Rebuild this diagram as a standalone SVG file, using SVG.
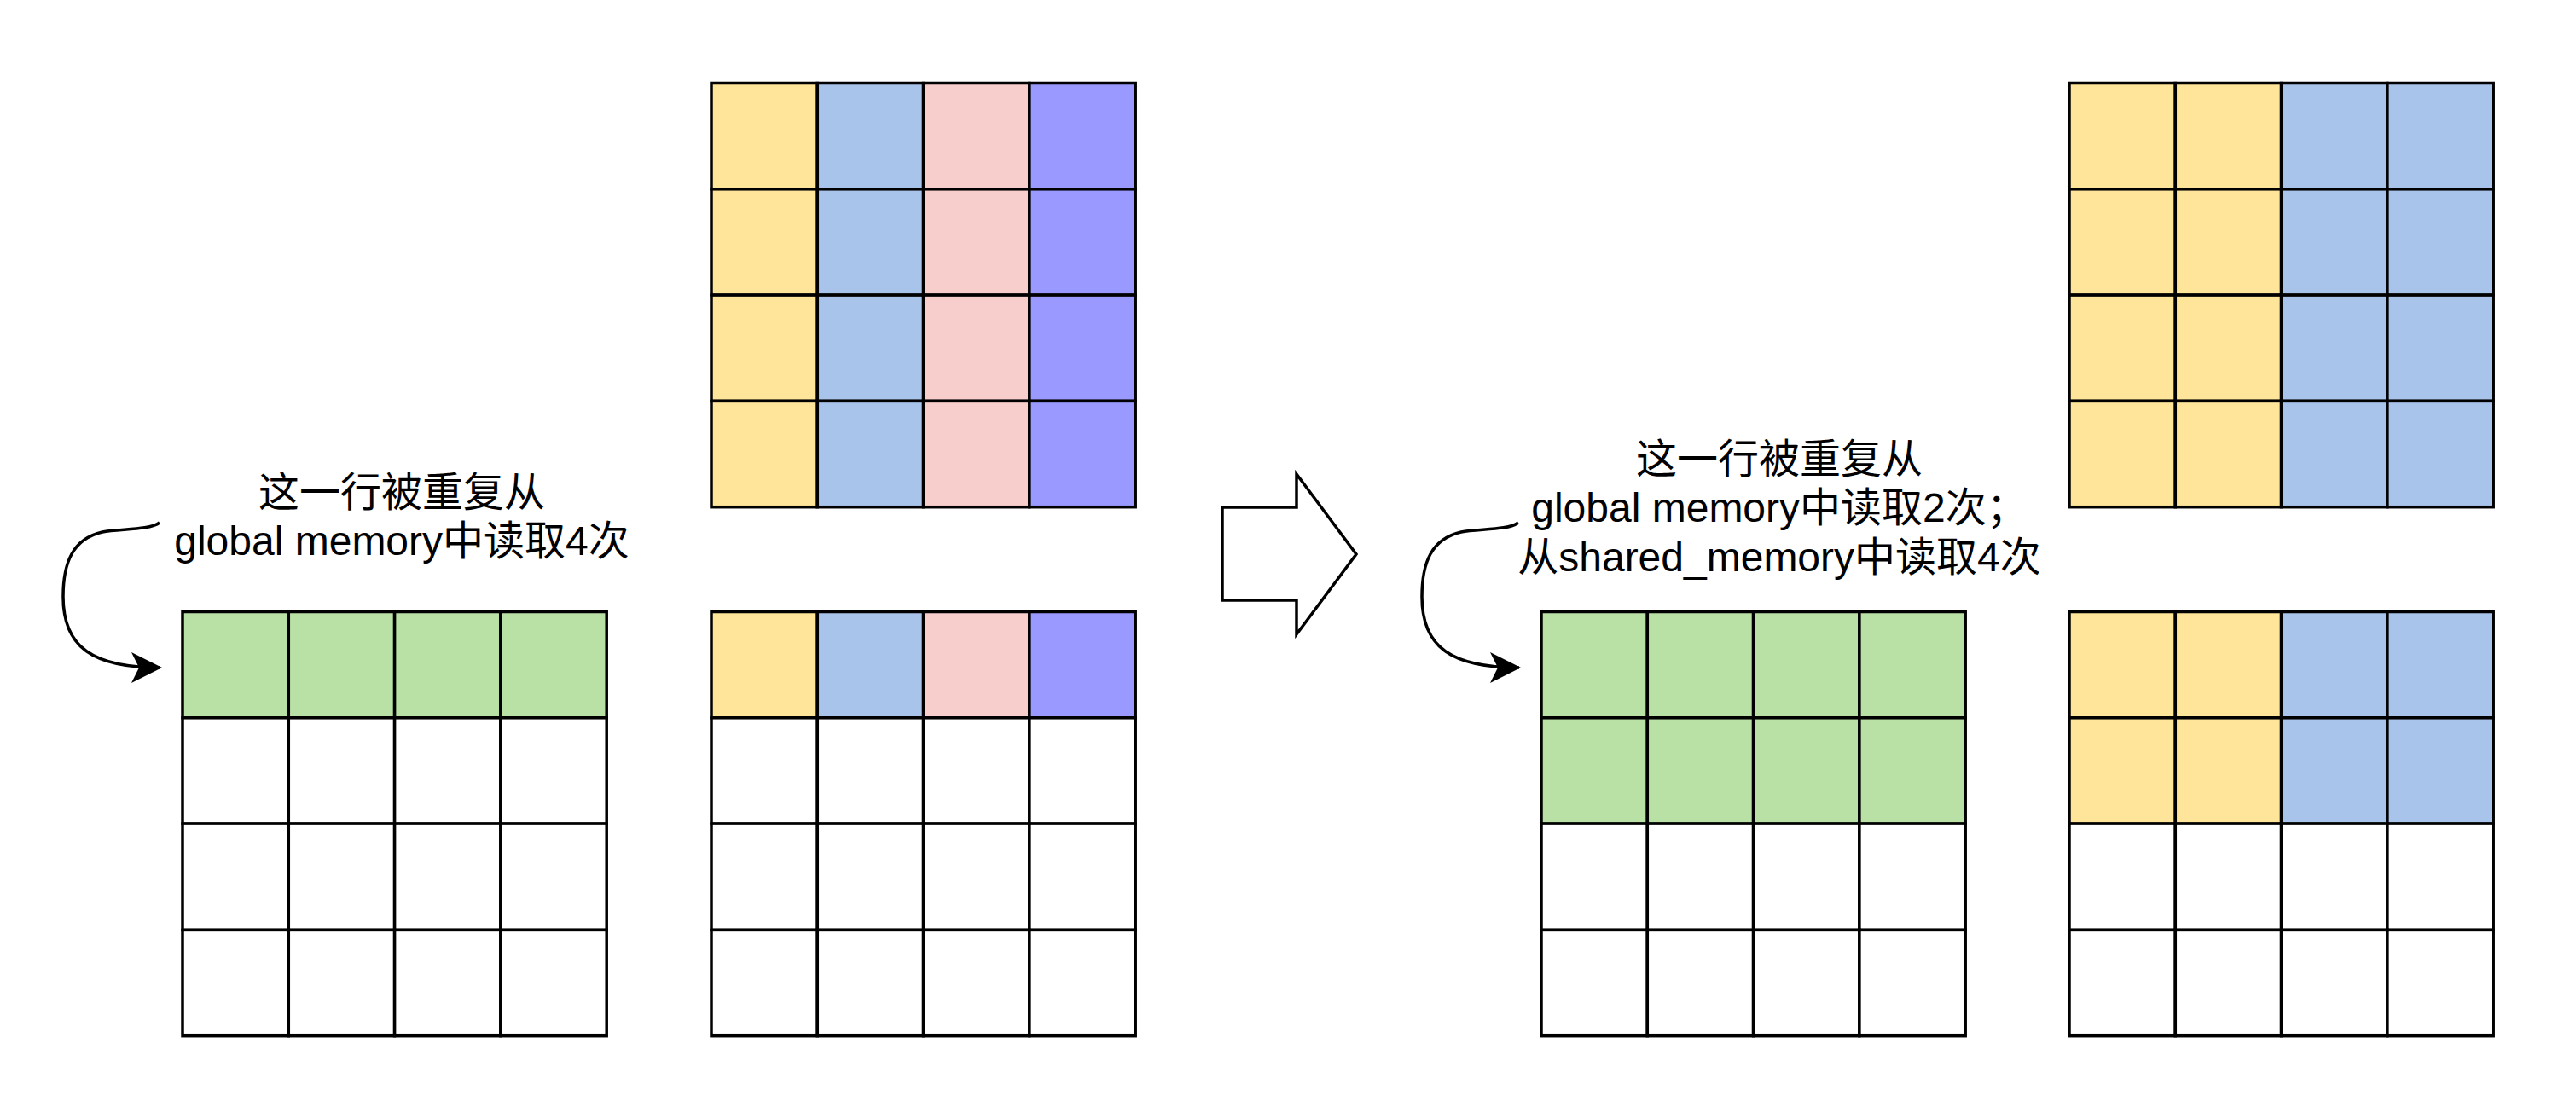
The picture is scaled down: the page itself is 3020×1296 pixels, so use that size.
<svg xmlns="http://www.w3.org/2000/svg" width="3020" height="1296" viewBox="0 0 3020 1296">
<style>
.c{stroke:#000;stroke-width:3.5}
.w{fill:#FFFFFF}
.y{fill:#FFE599}
.b{fill:#A9C4EB}
.p{fill:#F8CECC}
.v{fill:#9999FF}
.g{fill:#B9E0A5}
.t{font-family:"Liberation Sans","Noto Sans CJK SC",sans-serif;font-size:48px;fill:#000;text-anchor:middle}
.e{fill:none;stroke:#000;stroke-width:3.5}
</style>
<defs>
<marker id="ah" markerUnits="userSpaceOnUse" viewBox="0 0 36 36" refX="34" refY="18" markerWidth="36" markerHeight="36" orient="auto">
<path d="M36,18 L0,0 L9,18 L0,36 Z" fill="#000"/>
</marker>
</defs>
<rect width="3020" height="1296" fill="#fff"/>

<g id="gridA">
<rect class="c y" x="834" y="97.5" width="124.3" height="124.3"/><rect class="c b" x="958.3" y="97.5" width="124.3" height="124.3"/><rect class="c p" x="1082.6" y="97.5" width="124.3" height="124.3"/><rect class="c v" x="1206.9" y="97.5" width="124.3" height="124.3"/>
<rect class="c y" x="834" y="221.8" width="124.3" height="124.3"/><rect class="c b" x="958.3" y="221.8" width="124.3" height="124.3"/><rect class="c p" x="1082.6" y="221.8" width="124.3" height="124.3"/><rect class="c v" x="1206.9" y="221.8" width="124.3" height="124.3"/>
<rect class="c y" x="834" y="346.1" width="124.3" height="124.3"/><rect class="c b" x="958.3" y="346.1" width="124.3" height="124.3"/><rect class="c p" x="1082.6" y="346.1" width="124.3" height="124.3"/><rect class="c v" x="1206.9" y="346.1" width="124.3" height="124.3"/>
<rect class="c y" x="834" y="470.4" width="124.3" height="124.3"/><rect class="c b" x="958.3" y="470.4" width="124.3" height="124.3"/><rect class="c p" x="1082.6" y="470.4" width="124.3" height="124.3"/><rect class="c v" x="1206.9" y="470.4" width="124.3" height="124.3"/>
</g>

<g id="gridB">
<rect class="c g" x="214" y="717.5" width="124.3" height="124.3"/><rect class="c g" x="338.3" y="717.5" width="124.3" height="124.3"/><rect class="c g" x="462.6" y="717.5" width="124.3" height="124.3"/><rect class="c g" x="586.9" y="717.5" width="124.3" height="124.3"/>
<rect class="c w" x="214" y="841.8" width="124.3" height="124.3"/><rect class="c w" x="338.3" y="841.8" width="124.3" height="124.3"/><rect class="c w" x="462.6" y="841.8" width="124.3" height="124.3"/><rect class="c w" x="586.9" y="841.8" width="124.3" height="124.3"/>
<rect class="c w" x="214" y="966.1" width="124.3" height="124.3"/><rect class="c w" x="338.3" y="966.1" width="124.3" height="124.3"/><rect class="c w" x="462.6" y="966.1" width="124.3" height="124.3"/><rect class="c w" x="586.9" y="966.1" width="124.3" height="124.3"/>
<rect class="c w" x="214" y="1090.4" width="124.3" height="124.3"/><rect class="c w" x="338.3" y="1090.4" width="124.3" height="124.3"/><rect class="c w" x="462.6" y="1090.4" width="124.3" height="124.3"/><rect class="c w" x="586.9" y="1090.4" width="124.3" height="124.3"/>
</g>

<g id="gridC">
<rect class="c y" x="834" y="717.5" width="124.3" height="124.3"/><rect class="c b" x="958.3" y="717.5" width="124.3" height="124.3"/><rect class="c p" x="1082.6" y="717.5" width="124.3" height="124.3"/><rect class="c v" x="1206.9" y="717.5" width="124.3" height="124.3"/>
<rect class="c w" x="834" y="841.8" width="124.3" height="124.3"/><rect class="c w" x="958.3" y="841.8" width="124.3" height="124.3"/><rect class="c w" x="1082.6" y="841.8" width="124.3" height="124.3"/><rect class="c w" x="1206.9" y="841.8" width="124.3" height="124.3"/>
<rect class="c w" x="834" y="966.1" width="124.3" height="124.3"/><rect class="c w" x="958.3" y="966.1" width="124.3" height="124.3"/><rect class="c w" x="1082.6" y="966.1" width="124.3" height="124.3"/><rect class="c w" x="1206.9" y="966.1" width="124.3" height="124.3"/>
<rect class="c w" x="834" y="1090.4" width="124.3" height="124.3"/><rect class="c w" x="958.3" y="1090.4" width="124.3" height="124.3"/><rect class="c w" x="1082.6" y="1090.4" width="124.3" height="124.3"/><rect class="c w" x="1206.9" y="1090.4" width="124.3" height="124.3"/>
</g>

<g id="gridD">
<rect class="c g" x="1807" y="717.5" width="124.3" height="124.3"/><rect class="c g" x="1931.3" y="717.5" width="124.3" height="124.3"/><rect class="c g" x="2055.6" y="717.5" width="124.3" height="124.3"/><rect class="c g" x="2179.9" y="717.5" width="124.3" height="124.3"/>
<rect class="c g" x="1807" y="841.8" width="124.3" height="124.3"/><rect class="c g" x="1931.3" y="841.8" width="124.3" height="124.3"/><rect class="c g" x="2055.6" y="841.8" width="124.3" height="124.3"/><rect class="c g" x="2179.9" y="841.8" width="124.3" height="124.3"/>
<rect class="c w" x="1807" y="966.1" width="124.3" height="124.3"/><rect class="c w" x="1931.3" y="966.1" width="124.3" height="124.3"/><rect class="c w" x="2055.6" y="966.1" width="124.3" height="124.3"/><rect class="c w" x="2179.9" y="966.1" width="124.3" height="124.3"/>
<rect class="c w" x="1807" y="1090.4" width="124.3" height="124.3"/><rect class="c w" x="1931.3" y="1090.4" width="124.3" height="124.3"/><rect class="c w" x="2055.6" y="1090.4" width="124.3" height="124.3"/><rect class="c w" x="2179.9" y="1090.4" width="124.3" height="124.3"/>
</g>

<g id="gridE">
<rect class="c y" x="2426" y="97.5" width="124.3" height="124.3"/><rect class="c y" x="2550.3" y="97.5" width="124.3" height="124.3"/><rect class="c b" x="2674.6" y="97.5" width="124.3" height="124.3"/><rect class="c b" x="2798.9" y="97.5" width="124.3" height="124.3"/>
<rect class="c y" x="2426" y="221.8" width="124.3" height="124.3"/><rect class="c y" x="2550.3" y="221.8" width="124.3" height="124.3"/><rect class="c b" x="2674.6" y="221.8" width="124.3" height="124.3"/><rect class="c b" x="2798.9" y="221.8" width="124.3" height="124.3"/>
<rect class="c y" x="2426" y="346.1" width="124.3" height="124.3"/><rect class="c y" x="2550.3" y="346.1" width="124.3" height="124.3"/><rect class="c b" x="2674.6" y="346.1" width="124.3" height="124.3"/><rect class="c b" x="2798.9" y="346.1" width="124.3" height="124.3"/>
<rect class="c y" x="2426" y="470.4" width="124.3" height="124.3"/><rect class="c y" x="2550.3" y="470.4" width="124.3" height="124.3"/><rect class="c b" x="2674.6" y="470.4" width="124.3" height="124.3"/><rect class="c b" x="2798.9" y="470.4" width="124.3" height="124.3"/>
</g>

<g id="gridF">
<rect class="c y" x="2426" y="717.5" width="124.3" height="124.3"/><rect class="c y" x="2550.3" y="717.5" width="124.3" height="124.3"/><rect class="c b" x="2674.6" y="717.5" width="124.3" height="124.3"/><rect class="c b" x="2798.9" y="717.5" width="124.3" height="124.3"/>
<rect class="c y" x="2426" y="841.8" width="124.3" height="124.3"/><rect class="c y" x="2550.3" y="841.8" width="124.3" height="124.3"/><rect class="c b" x="2674.6" y="841.8" width="124.3" height="124.3"/><rect class="c b" x="2798.9" y="841.8" width="124.3" height="124.3"/>
<rect class="c w" x="2426" y="966.1" width="124.3" height="124.3"/><rect class="c w" x="2550.3" y="966.1" width="124.3" height="124.3"/><rect class="c w" x="2674.6" y="966.1" width="124.3" height="124.3"/><rect class="c w" x="2798.9" y="966.1" width="124.3" height="124.3"/>
<rect class="c w" x="2426" y="1090.4" width="124.3" height="124.3"/><rect class="c w" x="2550.3" y="1090.4" width="124.3" height="124.3"/><rect class="c w" x="2674.6" y="1090.4" width="124.3" height="124.3"/><rect class="c w" x="2798.9" y="1090.4" width="124.3" height="124.3"/>
</g>

<g id="bigArrow">
<polygon points="1433,595 1520,595 1520,556 1590,650 1520,744 1520,704 1433,704" fill="#fff" stroke="#000" stroke-width="3.5" stroke-linejoin="miter"/>
</g>

<g id="label1">
<text class="t" x="471" y="594">这一行被重复从</text>
<text class="t" x="471" y="651">global memory中读取4次</text>
</g>

<g id="label2">
<text class="t" x="2086" y="555">这一行被重复从</text>
<text class="t" x="2086" y="612">global memory中读取2次；</text>
<text class="t" x="2086" y="670">从shared_memory中读取4次</text>
</g>

<g id="connectors">
<path class="e" d="M187,613 C175,622 140,620 120,624 C85,632 74,660 74,700 C74,760 110,783 188,783" marker-end="url(#ah)"/>
<path class="e" d="M1780,613 C1768,622 1733,620 1713,624 C1678,632 1667,660 1667,700 C1667,760 1703,783 1781,783" marker-end="url(#ah)"/>
</g>
</svg>
